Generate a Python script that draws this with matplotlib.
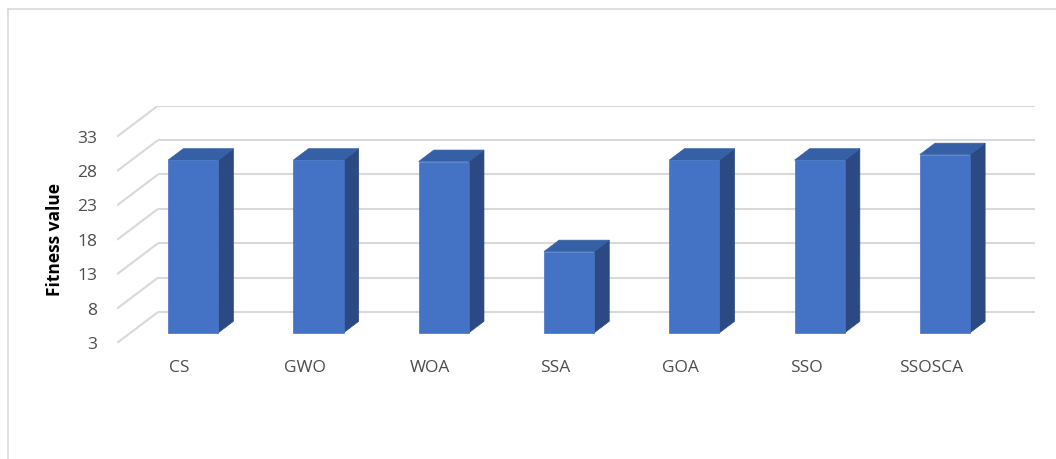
import matplotlib.pyplot as plt
from matplotlib.patches import Polygon
from matplotlib.lines import Line2D

categories = ["CS", "GWO", "WOA", "SSA", "GOA", "SSO", "SSOSCA"]
fitness = [28.1, 28.1, 27.9, 14.8, 28.1, 28.1, 28.9]
yticks = [3, 8, 13, 18, 23, 28, 33]

# oblique "3D" offsets for the back wall (data units)
DX, DY = 0.327, 4.5
D0, D1 = 0.33, 0.70     # bar depth range (fraction of floor depth)
HW = 0.2                 # half bar width

FRONT = "#4472C4"
TOP = "#3560A6"
SIDE = "#2B4A84"
GRID = "#d9d9d9"
TXT = "#4d4d4d"

plt.rcParams['font.family'] = ['Open Sans', 'DejaVu Sans']

fig = plt.figure(figsize=(10.56, 4.59), dpi=100)
ax = fig.add_axes([117 / 1056, 1 - 343 / 459, 918 / 1056, 237.3 / 459])
ax.set_xlim(-0.5, 6.5 + DX)
ax.set_ylim(3, 33 + DY)
for s in ax.spines.values():
    s.set_visible(False)

# side wall + back wall gridlines
for v in yticks:
    ax.plot([-0.5, -0.5 + DX], [v, v + DY], color=GRID, lw=1.5, zorder=1,
            solid_capstyle='butt')
    ax.plot([-0.5 + DX, 6.5 + DX], [v + DY, v + DY], color=GRID, lw=1.5,
            zorder=1, solid_capstyle='butt')

for i, val in enumerate(fitness):
    x0 = i - HW
    x1 = i + HW
    fx, fy = D0 * DX, D0 * DY
    bx, by = D1 * DX, D1 * DY
    front = [(x0 + fx, 3 + fy), (x1 + fx, 3 + fy), (x1 + fx, val + fy), (x0 + fx, val + fy)]
    top = [(x0 + fx, val + fy), (x1 + fx, val + fy), (x1 + bx, val + by), (x0 + bx, val + by)]
    side = [(x1 + fx, 3 + fy), (x1 + bx, 3 + by), (x1 + bx, val + by), (x1 + fx, val + fy)]
    ax.add_patch(Polygon(side, closed=True, facecolor=SIDE, edgecolor=SIDE, lw=0.5, zorder=3))
    ax.add_patch(Polygon(top, closed=True, facecolor=TOP, edgecolor=TOP, lw=0.5, zorder=3))
    ax.add_patch(Polygon(front, closed=True, facecolor=FRONT, edgecolor=FRONT, lw=0.5, zorder=4))

ax.set_yticks(yticks)
ax.set_yticklabels([str(t) for t in yticks], fontsize=12.5, color=TXT)
ax.set_xticks(range(len(categories)))
ax.set_xticklabels(categories, fontsize=12.5, color=TXT)
ax.tick_params(axis='y', length=0, pad=14)
ax.tick_params(axis='x', length=0, pad=12)

fig.text(55 / 1056, 1 - 240 / 459, "Fitness value", rotation=90, ha='center',
         va='center', fontsize=12.5, fontweight='bold', color='black')

# chart border (left and top edges visible)
fig.add_artist(Line2D([8 / 1056, 8 / 1056], [0, 1 - 9 / 459], transform=fig.transFigure,
                      color=GRID, lw=1.2))
fig.add_artist(Line2D([8 / 1056, 1], [1 - 9 / 459, 1 - 9 / 459], transform=fig.transFigure,
                      color=GRID, lw=1.2))

fig.savefig("out.png", dpi=100)
